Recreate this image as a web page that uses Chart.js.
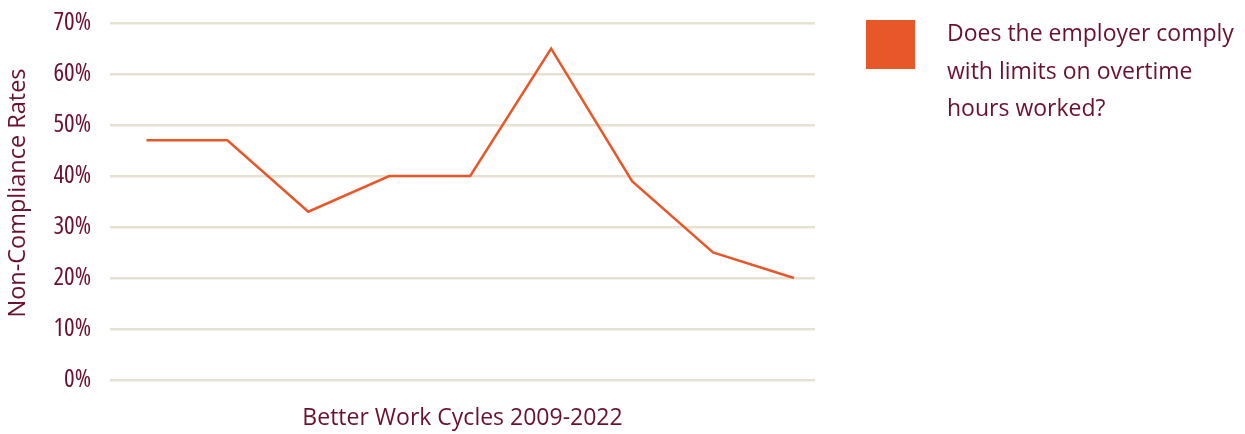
<!DOCTYPE html>
<html>
<head>
<meta charset="utf-8">
<script src="https://cdn.jsdelivr.net/npm/chart.js@4"></script>
<style>
  html, body { margin: 0; padding: 0; background: #ffffff; }
  #wrap { position: relative; width: 1245px; height: 434px; }
  #chart { position: absolute; left: 0; top: 0; }
  #legend { position: absolute; left: 866px; top: 14px; font-family: "Open Sans", sans-serif; font-size: 23px; line-height: 37.5px; color: #6b1130; }
  .item { position: relative; }
  .sw { position: absolute; left: 0; top: 6px; width: 49px; height: 49px; }
  .txt { position: absolute; left: 81px; top: 0; width: 310px; }
</style>
</head>
<body>
<div id="wrap">
  <canvas id="chart" width="1245" height="434"></canvas>
  <div id="legend"></div>
</div>
<script>
// Data
const cycles = [1, 2, 3, 4, 5, 6, 7, 8, 9];
const nonCompliance = [47, 47, 33, 40, 40, 65, 39, 25, 20];
const yTicks = [0, 10, 20, 30, 40, 50, 60, 70];
const seriesLabel = 'Does the employer comply with limits on overtime hours worked?';
const xTitle = 'Better Work Cycles 2009-2022';
const yTitle = 'Non-Compliance Rates';

const textColor = '#6b1130';
const lineColor = '#e8572a';
const gridColor = '#e7e1d1';

const points = cycles.map((c, i) => ({ x: c, y: nonCompliance[i] }));

// Draws the rotated y-axis title
const yTitlePlugin = {
  id: 'yTitlePlugin',
  afterDraw(chart) {
    const ctx = chart.ctx;
    ctx.save();
    ctx.translate(18, 193);
    ctx.rotate(-Math.PI / 2);
    ctx.font = '23.5px "Open Sans"';
    ctx.fillStyle = textColor;
    ctx.textAlign = 'center';
    ctx.textBaseline = 'middle';
    ctx.fillText(yTitle, 0, 0);
    ctx.restore();
  }
};

const chart = new Chart(document.getElementById('chart'), {
  type: 'line',
  data: {
    datasets: [{
      label: seriesLabel,
      data: points,
      borderColor: lineColor,
      backgroundColor: lineColor,
      borderWidth: 2.5,
      pointRadius: 0,
      tension: 0,
      fill: false
    }]
  },
  options: {
    responsive: false,
    animation: false,
    devicePixelRatio: 1,
    layout: { padding: { top: 23, right: 430, left: 0, bottom: 0 } },
    plugins: { legend: { display: false }, tooltip: { enabled: false } },
    scales: {
      x: {
        type: 'linear',
        min: 0.55,
        max: 9.26,
        grid: { display: false },
        border: { display: false },
        ticks: { display: false },
        title: {
          display: true,
          text: xTitle,
          color: textColor,
          font: { family: 'Open Sans', size: 23 },
          padding: { top: 0, bottom: 2 }
        },
        afterFit: (s) => { s.height = 54; s.paddingLeft = 0; s.paddingRight = 0; }
      },
      y: {
        min: 0,
        max: 70,
        afterBuildTicks: (s) => { s.ticks = yTicks.map(v => ({ value: v })); },
        grid: { color: gridColor, lineWidth: 2.5, drawTicks: false },
        border: { display: false },
        ticks: {
          color: textColor,
          padding: 19,
          font: { family: '"Open Sans"', size: 25, weight: 'normal condensed' },
          callback: (v) => v + '%'
        },
        title: { display: false },
        afterFit: (s) => { s.width = 110; s.paddingTop = 0; s.paddingBottom = 0; }
      }
    }
  },
  plugins: [yTitlePlugin]
});

// HTML legend built from the dataset
const lg = document.getElementById('legend');
chart.data.datasets.forEach(ds => {
  const item = document.createElement('div');
  item.className = 'item';
  const sw = document.createElement('div');
  sw.className = 'sw';
  sw.style.background = ds.borderColor;
  const t = document.createElement('div');
  t.className = 'txt';
  t.textContent = ds.label;
  item.appendChild(sw);
  item.appendChild(t);
  lg.appendChild(item);
});
</script>
</body>
</html>
